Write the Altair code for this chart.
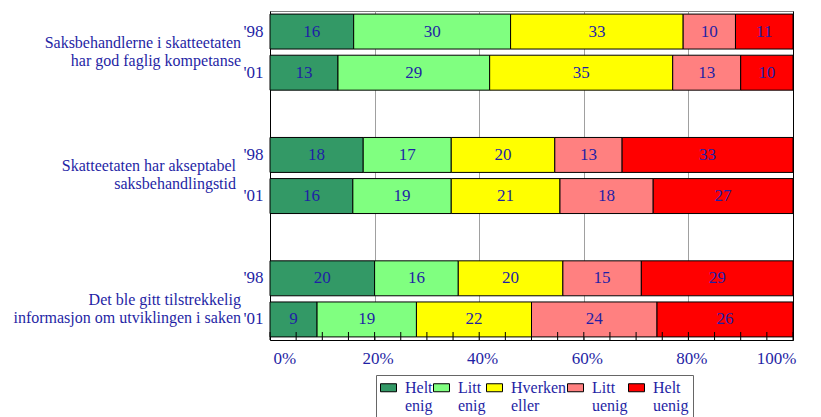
import altair as alt
import pandas as pd

# Survey answers, percent per response category
categories = ["Helt enig", "Litt enig", "Hverken eller", "Litt uenig", "Helt uenig"]
colors = ["#339966", "#80ff80", "#ffff00", "#ff8080", "#ff0000"]

questions = [
    "Saksbehandlerne i skatteetaten\nhar god  faglig kompetanse",
    "Skatteetaten har akseptabel\nsaksbehandlingstid",
    "Det ble gitt tilstrekkelig\ninformasjon om utviklingen i saken",
]
years = ["'98", "'01"]

q1_98 = [16, 30, 33, 10, 11]
q1_01 = [13, 29, 35, 13, 10]
q2_98 = [18, 17, 20, 13, 33]
q2_01 = [16, 19, 21, 18, 27]
q3_98 = [20, 16, 20, 15, 29]
q3_01 = [9, 19, 22, 24, 26]

rows = [
    ("a'98", q1_98), ("a'01", q1_01),
    ("b'98", q2_98), ("b'01", q2_01),
    ("c'98", q3_98), ("c'01", q3_01),
]
# band order, with empty slots between the questions
band_order = ["a'98", "a'01", "g1", "b'98", "b'01", "g2", "c'98", "c'01"]

records = []
for pos, vals in rows:
    for i, (cat, v) in enumerate(zip(categories, vals)):
        records.append({"pos": pos, "kategori": cat, "verdi": v, "rekke": i})
df = pd.DataFrame(records)

qdf = pd.DataFrame({"pos": ["a'98", "b'98", "c'98"], "tekst": questions})

tick_values = [0, 0.05, 0.1, 0.15, 0.2, 0.25, 0.3, 0.35, 0.4, 0.45, 0.5,
               0.55, 0.6, 0.65, 0.7, 0.75, 0.8, 0.85, 0.9, 0.95, 1.0]
tdf = pd.DataFrame({"t": tick_values})

SERIF = "Liberation Serif"
BLUE = "#1f1fa5"

xscale = alt.Scale(domain=[0, 1], nice=False, zero=True)
yscale = alt.Scale(domain=band_order, paddingInner=0.15, paddingOuter=0.075)

base = alt.Chart(df).transform_stack(
    stack="verdi", as_=["x0", "x1"], groupby=["pos"],
    sort=[alt.SortField("rekke")], offset="normalize",
).transform_calculate(mid="(datum.x0 + datum.x1) / 2")

bars = base.mark_bar(stroke="black", strokeWidth=1).encode(
    x=alt.X("x0:Q", scale=xscale, title=None,
            axis=alt.Axis(values=[0, 0.2, 0.4, 0.6, 0.8, 1.0], format=".0%",
                          grid=True,
                          gridColor=alt.condition("datum.value === 1", alt.value("black"), alt.value("#a0a0a0")),
                          ticks=False, domainColor="black", labelPadding=10,
                          labelOffset=3, labelFontSize=17)),
    x2="x1:Q",
    y=alt.Y("pos:N", scale=yscale, title=None,
            axis=alt.Axis(labelExpr="datum.label[0] == 'g' ? '' : substring(datum.label, 1)",
                          ticks=False, domainColor="black", labelPadding=7,
                          labelFontSize=17, grid=False)),
    color=alt.Color("kategori:N",
                    scale=alt.Scale(domain=categories, range=colors),
                    legend=alt.Legend(
                        title=None, orient="none", legendX=106, legendY=364,
                        direction="horizontal", columns=5,
                        symbolType="M-1,-0.5H1V0.5H-1Z", symbolSize=256,
                        symbolStrokeColor="black", symbolStrokeWidth=1,
                        labelFont=SERIF, labelFontSize=16, labelColor=BLUE,
                        labelExpr="split(datum.label, ' ')",
                        columnPadding=-3, labelOffset=8, padding=4,
                        strokeColor="#666666", fillColor="white",
                    )),
    order=alt.Order("rekke:Q"),
)

values = base.mark_text(font=SERIF, fontSize=17, color=BLUE).encode(
    x=alt.X("mid:Q", scale=xscale),
    y=alt.Y("pos:N", scale=yscale),
    text="verdi:Q",
)


def question_text(pos, dx, dy):
    return alt.Chart(qdf).transform_filter(f"datum.pos == \"{pos}\"").mark_text(
        font=SERIF, fontSize=16, color=BLUE, align="right", baseline="middle",
        lineBreak="\n", lineHeight=18, dy=dy,
    ).encode(x=alt.value(dx), y=alt.Y("pos:N", scale=yscale), text="tekst:N")


qtexts = [
    question_text("a'98", -29, 11),
    question_text("b'98", -34, 11),
    question_text("c'98", -29, 22),
]

minor = alt.Chart(tdf).mark_rule(color="black", strokeWidth=1).encode(
    x=alt.X("t:Q", scale=xscale),
    y=alt.value(321),
    y2=alt.value(329),
)

chart = alt.layer(bars, values, minor, *qtexts).properties(
    width=523, height=329,
    padding={"left": 270, "top": 11, "right": 28, "bottom": 77},
    autosize=alt.AutoSizeParams(type="none"),
).configure_view(stroke="#808080").configure_axis(
    labelFont=SERIF, labelColor=BLUE,
)

chart.save("out.html", embed_options={"renderer": "svg", "actions": False})
